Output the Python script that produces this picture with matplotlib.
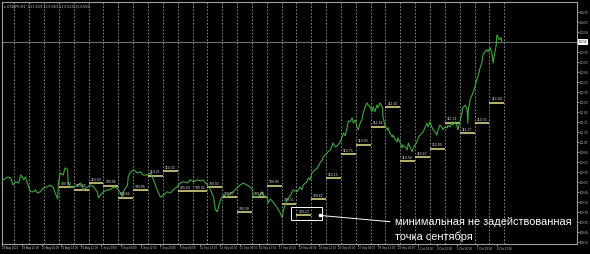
import matplotlib
matplotlib.use("Agg")
import matplotlib.pyplot as plt
import matplotlib.transforms as mtransforms
from matplotlib.patches import Rectangle

# USDJPY H1, hour index from 24 Aug 00:00 (trading hours only)
hours = [1, 6, 13, 18, 22, 26, 31, 34, 37, 39, 42, 45, 50, 55, 58, 61, 66, 71, 77, 82,
         87, 90, 94, 95, 98, 103, 106, 110, 111, 115, 119, 126, 131, 136, 142, 147, 152, 158, 160, 163,
         168, 174, 179, 184, 190, 195, 199, 200, 207, 208, 211, 216, 223, 228, 232, 239, 244, 249, 252, 255,
         257, 260, 265, 271, 276, 281, 287, 292, 297, 304, 308, 313, 320, 325,
         329, 336, 341, 346, 349, 352, 354, 357, 362, 368, 373, 378, 384, 389, 394, 400, 405, 409, 410, 417,
         421, 425, 426, 433, 434, 438, 442, 449, 454, 457, 459, 465, 470, 475, 481, 486, 489, 491, 497, 499,
         502, 505, 507, 514, 518, 522, 523, 526, 530, 531, 535, 538, 539, 543, 546, 551, 556, 559, 562, 564,
         567, 570, 572, 575, 578, 580, 583, 586, 588, 591, 594, 596, 599, 602, 604, 607, 610, 612, 615, 619,
         620, 623, 627, 628, 631, 635, 636, 640, 643, 644, 648, 651, 652, 656, 659, 661, 664, 667, 669, 672,
         675, 677, 680, 685, 691, 693, 696, 699, 701, 704, 707, 709, 712, 715, 717, 720, 724, 725, 728, 732,
         733, 737, 740, 741, 745, 748, 749, 753, 756, 757, 758, 761, 764, 766, 769, 772, 774, 777, 780, 782,
         785, 788, 790, 793, 796, 798, 800, 801, 803, 804, 806, 808, 811, 812]
prices = [110.01, 110.11, 110.18, 110.16, 109.98, 110.06, 110.03, 110.23, 110.18, 110.11,
          110.18, 110.03, 109.81, 109.81, 109.86, 109.78, 109.81, 109.91, 109.93, 109.98,
          109.91, 109.78, 109.63, 110.01, 110.28, 110.23, 110.41, 110.36, 110.03, 109.91,
          109.93, 109.98, 110.03, 109.86, 109.93, 109.98, 109.93, 109.81, 109.66, 109.73,
          109.81, 109.86, 109.86, 109.93, 109.91, 109.78, 109.68, 109.81, 109.98, 110.18,
          110.28, 110.36, 110.28, 110.31, 110.23, 110.23, 110.28, 110.11, 109.98, 109.86,
          109.78, 109.68, 109.73, 109.81, 109.78, 109.86, 109.93, 110.03, 110.06, 110.03,
          110.11, 110.06, 110.11, 110.08,
          110.11, 109.98, 109.86, 109.68, 109.36, 109.31, 109.43, 109.61, 109.73, 109.68,
          109.78, 109.81, 109.91, 109.98, 110.03, 109.98, 109.93, 109.86, 109.68, 109.68,
          109.73, 109.81, 109.73, 109.66, 109.53, 109.63, 109.56, 109.41, 109.28, 109.16,
          109.36, 109.61, 109.71, 109.86, 109.81, 109.93, 109.86, 109.98, 110.06, 110.16,
          110.11, 110.28, 110.31, 110.41, 110.53, 110.61, 110.68, 110.73, 110.78, 110.81,
          110.86, 110.98, 111.03, 110.93, 110.96, 111.06, 111.28, 111.21, 111.43, 111.58,
          111.56, 111.66, 111.53, 111.61, 111.43, 111.36, 111.53, 111.61, 111.78, 111.93,
          112.03, 111.98, 111.93, 111.81, 111.93, 111.81, 111.98, 111.91, 112.03, 111.93,
          111.68, 111.48, 111.36, 111.41, 111.28, 111.18, 111.23, 111.11, 111.06, 111.16,
          111.03, 110.91, 110.98, 110.93, 110.86, 111.03, 110.91, 110.81, 110.91, 110.98,
          111.06, 111.16, 111.23, 111.31, 111.53, 111.43, 111.56, 111.43, 111.36, 111.31,
          111.23, 111.36, 111.48, 111.43, 111.36, 111.43, 111.41, 111.48, 111.43, 111.53,
          111.48, 111.56, 111.43, 111.36, 111.61, 111.81, 111.91, 111.98, 111.86, 111.53,
          111.86, 112.13, 112.23, 112.31, 112.46, 112.63, 112.73, 112.91, 113.06, 113.26,
          113.31, 113.36, 113.31, 113.41, 113.28, 113.03, 113.23, 113.31, 113.48, 113.73,
          113.68, 113.61, 113.66, 113.56]

# daily levels (day index from 24 Aug)
level_days = list(range(4, 34))
level_values = [109.93, 109.86, 110.03, 109.96, 109.66, 109.85, 110.21, 110.33, 109.83, 109.82,
                109.93, 109.67, 109.30, 109.68, 109.96, 109.51, 109.22, 109.62, 110.15, 110.75,
                110.99, 111.44, 111.92, 110.58, 110.67, 110.89, 111.54, 111.27, 111.53, 112.04]
min_day = 20
bid = 113.555

price_ticks = [108.55, 108.80, 109.05, 109.30, 109.55, 109.80, 110.05, 110.30, 110.55, 110.80,
               111.05, 111.30, 111.55, 111.80, 112.05, 112.30, 112.55, 112.80, 113.05, 113.30,
               113.80, 114.05, 114.30]
time_ticks = [4, 36, 68, 100, 132, 164, 196, 228, 260, 292, 324, 356, 388, 420, 452, 484,
              516, 548, 580, 612, 644, 676, 708, 740, 772, 804]
time_labels = ["24 Aug 2021", "25 Aug 12:00", "26 Aug 20:00", "30 Aug 04:00", "31 Aug 12:00",
               "1 Sep 20:00", "3 Sep 04:00", "6 Sep 12:00", "7 Sep 20:00", "9 Sep 04:00",
               "10 Sep 12:00", "13 Sep 20:00", "15 Sep 04:00", "16 Sep 12:00", "17 Sep 20:00",
               "21 Sep 04:00", "22 Sep 12:00", "23 Sep 20:00", "27 Sep 04:00", "28 Sep 12:00",
               "29 Sep 20:00", "1 Oct 04:00", "4 Oct 12:00", "5 Oct 20:00", "7 Oct 04:00",
               "8 Oct 12:00"]
n_days = 34

tiny = 2.1
small_font = ["Liberation Sans", "DejaVu Sans"]
fig = plt.figure(figsize=(5.9, 2.54), dpi=100, facecolor="black")
ax = fig.add_axes([2 / 590, 10 / 254, 575 / 590, 242 / 254], facecolor="black")

for d in range(1, n_days + 1):
    ax.axvline(24 * d, color="#9a9a9a", lw=0.6, ls=(0, (2, 2)), zorder=1)
ax.axhline(bid, color="#8a8a8a", lw=0.6, zorder=1)

ax.plot(hours, prices, color="#3fa63f", lw=0.8, zorder=3)

starts = [24 * d for d in level_days]
ax.hlines(level_values, starts, [s + 24 for s in starts], colors="#d9cf7f", lw=1.2, zorder=2)
for s, v in zip(starts, level_values):
    ax.annotate(f"{v:.2f}", xy=(s + 3, v), xytext=(0, 1.0), textcoords="offset points",
                fontsize=2.5, color="#d8d8d8", ha="left", va="bottom", zorder=4,
                family=small_font)

# box around the September minimum level
lv = level_values[level_days.index(min_day)]
ax.add_patch(Rectangle((24 * min_day - 8, lv - 0.115), 50, 0.325, fill=False,
                       ec="white", lw=0.7, zorder=4))
dot = (24 * min_day + 38, lv)
ax.plot(*dot, "o", ms=1.6, color="white", zorder=5)
ax.annotate("", xy=dot, xytext=(0.675, 0.092), textcoords="axes fraction",
            arrowprops=dict(arrowstyle="-", color="white", lw=0.7, shrinkA=0, shrinkB=0))
ax.text(0.6835, 0.092, "минимальная не задействованная", transform=ax.transAxes,
        fontsize=7.9, color="white", ha="left", va="center",
        family=["Liberation Sans", "DejaVu Sans"])
ax.text(0.6835, 0.030, "точка сентября", transform=ax.transAxes,
        fontsize=7.9, color="white", ha="left", va="center",
        family=["Liberation Sans", "DejaVu Sans"])

ax.text(0.004, 0.988, "▾ USDJPY,H1  113.529 113.563 113.520 113.555", transform=ax.transAxes,
        fontsize=2.5, color="#c8c8c8", ha="left", va="top")

ax.set_xlim(4.7, 933.6)
ax.set_ylim(108.505, 114.555)

ax.yaxis.tick_right()
ax.set_yticks(price_ticks)
ax.set_yticklabels([f"{t:.2f}" for t in price_ticks], family=small_font)
ax.set_xticks(time_ticks)
ax.set_xticklabels(time_labels, family=small_font)
for lbl in ax.get_xticklabels():
    lbl.set_ha("left")
ax.tick_params(axis="both", colors="#c0c0c0", labelsize=tiny, length=1.2, width=0.5, pad=0.6)

bt = mtransforms.blended_transform_factory(ax.transAxes, ax.transData)
ax.text(1.003, bid, f"{bid:.2f}", transform=bt, fontsize=tiny, color="black", ha="left",
        va="center", bbox=dict(fc="white", ec="none", pad=0.4), zorder=6, clip_on=False,
        family=small_font)

for sp in ax.spines.values():
    sp.set_color("#a0a0a0")
    sp.set_linewidth(0.8)

fig.savefig("out.png", dpi=100, facecolor="black")
